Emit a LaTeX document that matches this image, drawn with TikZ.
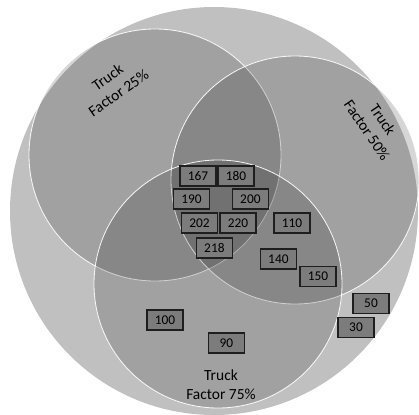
\documentclass[tikz,border=0pt]{standalone}
\usepackage{fontspec}
\setmainfont{Carlito}
\usepackage{xcolor}
\definecolor{vnouter}{RGB}{192,192,192}
\definecolor{vnbox}{RGB}{124,124,124}
\definecolor{vnedge}{RGB}{30,30,30}
\usetikzlibrary{positioning}

\begin{document}
\begin{tikzpicture}[
  setc/.style={draw=white,line width=0.6pt,fill=black,fill opacity=0.16,draw opacity=0.9},
  cnt/.style={draw=vnedge,line width=1pt,fill=vnbox,minimum width=0.9cm,minimum height=0.5cm,
    inner sep=0pt,font=\fontsize{9.5}{10}\selectfont},
  tf/.style={align=center,inner sep=1pt,font=\fontsize{11}{13.5}\selectfont}
]
  \useasboundingbox (0,0) rectangle (10.475,10.35);

  % Whole set
  \fill[vnouter] (5.35,5.075) circle (5.1);

  % Truck factor sets
  \draw[setc] (3.875,6.475) circle (3.15);
  \draw[setc] (7.375,5.85) circle (3.1);
  \draw[setc] (5.45,3.25) circle (3.1);

  \node[tf,rotate=35] (t25) at (2.825,8.225) {Truck\\Factor 25\%};
  \node[tf,rotate=-56] (t50) at (9.375,7.225) {Truck\\Factor 50\%};
  \node[tf] (t75) at (5.525,0.725) {Truck\\Factor 75\%};

  % Counts
  \node[cnt] (n167) at (4.95,5.95) {167};
  \node[cnt] (n180) at (5.9,5.95) {180};
  \node[cnt] (n190) at (4.79,5.375) {190};
  \node[cnt] (n200) at (6.26,5.375) {200};
  \node[cnt] (n202) at (4.99,4.775) {202};
  \node[cnt] (n220) at (5.95,4.775) {220};
  \node[cnt] (n110) at (7.3,4.775) {110};
  \node[cnt] (n218) at (5.36,4.15) {218};
  \node[cnt] (n140) at (6.96,3.875) {140};
  \node[cnt] (n150) at (7.95,3.44) {150};
  \node[cnt] (n50) at (9.275,2.76) {50};
  \node[cnt] (n30) at (8.9,2.16) {30};
  \node[cnt] (n100) at (4.125,2.35) {100};
  \node[cnt] (n90) at (5.66,1.775) {90};
\end{tikzpicture}
\end{document}
